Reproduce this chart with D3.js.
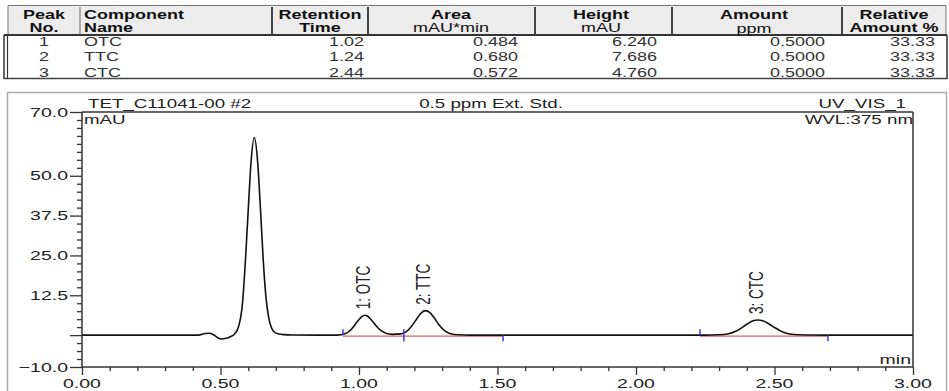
<!DOCTYPE html>
<html><head><meta charset="utf-8">
<script src="https://cdn.jsdelivr.net/npm/d3@7"></script>
<style>
body{margin:0;background:#fff}
svg{display:block}
text{font-family:"Liberation Sans",Arial,sans-serif;fill:#222}
</style>
</head><body>
<svg id="c" width="949" height="391"></svg>
<script>
// ---------- table data ----------
const peakNo = ["1", "2", "3"];
const componentName = ["OTC", "TTC", "CTC"];
const retentionTime = ["1.02", "1.24", "2.44"];
const areaValues = ["0.484", "0.680", "0.572"];
const heightValues = ["6.240", "7.686", "4.760"];
const amountValues = ["0.5000", "0.5000", "0.5000"];
const relativeAmount = ["33.33", "33.33", "33.33"];
const headerTop = ["Peak", "Component", "Retention", "Area", "Height", "Amount", "Relative"];
const headerBottom = ["No.", "Name", "Time", "mAU*min", "mAU", "ppm", "Amount %"];

// ---------- chromatogram data ----------
const traceTime = [0.00, 0.30, 0.42, 0.445, 0.46, 0.475, 0.49, 0.505, 0.52, 0.535, 0.55, 0.565, 0.58, 0.59, 0.60, 0.61, 0.622, 0.634, 0.644, 0.654, 0.664, 0.674, 0.684, 0.695, 0.71, 0.73, 0.76, 0.85,
  0.92, 0.95, 0.97, 0.99, 1.00, 1.01, 1.02, 1.03, 1.04, 1.05, 1.06, 1.08, 1.10, 1.12, 1.15,
  1.17, 1.19, 1.21, 1.225, 1.24, 1.255, 1.27, 1.29, 1.31, 1.33, 1.36, 1.40, 1.50, 2.00, 2.25,
  2.30, 2.33, 2.36, 2.38, 2.40, 2.42, 2.44, 2.46, 2.48, 2.50, 2.52, 2.54, 2.57, 2.61, 2.70, 3.00];
const traceMAU = [0, 0, 0, 0.5, 0.6, 0.1, -0.8, -1.2, -1.0, -0.5, 0.3, 2.6, 10.5, 23.5, 39, 54, 62, 54.5, 40, 24, 12, 5.5, 2.3, 0.9, 0.35, 0.15, 0.05, 0,
  0, 0.4, 1.6, 3.8, 4.9, 5.8, 6.24, 6.0, 5.2, 4.2, 3.1, 1.4, 0.5, 0.25, 0.4,
  1.0, 2.8, 5.3, 7.0, 7.686, 7.1, 5.6, 3.1, 1.3, 0.45, 0.1, 0, 0, 0, 0,
  0.1, 0.35, 1.2, 2.2, 3.4, 4.4, 4.76, 4.4, 3.5, 2.4, 1.4, 0.7, 0.2, 0.05, 0, 0];

const peakLabels = ["1: OTC", "2: TTC", "3: CTC"];
const peakTimes = [1.02, 1.24, 2.44];
const peakHeights = [6.240, 7.686, 4.760];
const delimiterTimes = [0.942, 1.162, 1.52, 2.231, 2.693];
const delimiterSide = ["up", "both", "down", "up", "down"];
const baselineStart = [0.942, 2.231];
const baselineEnd = [1.52, 2.693];
const yTickLabels = [70, 50, 37.5, 25, 12.5, -10];
const yMajorTicks = [-10, 0, 12.5, 25, 37.5, 50, 70];
const xTickLabels = [0, 0.5, 1, 1.5, 2, 2.5, 3];

// ---------- drawing ----------
const svg = d3.select("#c");
svg.append("rect").attr("width", 949).attr("height", 391).attr("fill", "#fff");
const SX = 1.5;

function txt(g, s, x, y, anchor, size, weight, color) {
  return g.append("text")
    .attr("transform", `translate(${x},${y}) scale(${SX},1)`)
    .attr("text-anchor", anchor)
    .style("font-size", size + "px")
    .style("font-weight", weight || "normal")
    .style("fill", color || "#222")
    .text(s);
}

// ----- table -----
const tg = svg.append("g");
tg.append("rect").attr("x", 8).attr("y", 5.5).attr("width", 938).attr("height", 29.5).attr("fill", "#ececec");
tg.append("line").attr("x1", 8).attr("x2", 946).attr("y1", 5.5).attr("y2", 5.5).attr("stroke", "#777").attr("stroke-width", 1);
tg.append("line").attr("x1", 8).attr("x2", 8).attr("y1", 5.5).attr("y2", 35).attr("stroke", "#777");
tg.append("line").attr("x1", 946).attr("x2", 946).attr("y1", 5.5).attr("y2", 35).attr("stroke", "#777");
const sepX = [80, 272, 368, 535, 672, 842];
sepX.forEach((sx, i) => {
  tg.append("line").attr("x1", sx).attr("x2", sx).attr("y1", 7).attr("y2", 35)
    .attr("stroke", i === 0 ? "#666" : "#333").attr("stroke-width", i === 0 ? 1 : 1.8);
});
// body box
tg.append("line").attr("x1", 4).attr("x2", 947).attr("y1", 35).attr("y2", 35).attr("stroke", "#333").attr("stroke-width", 1.8);
tg.append("line").attr("x1", 4).attr("x2", 947).attr("y1", 78.5).attr("y2", 78.5).attr("stroke", "#444").attr("stroke-width", 1.5);
tg.append("line").attr("x1", 4).attr("x2", 4).attr("y1", 35).attr("y2", 79).attr("stroke", "#333").attr("stroke-width", 1.5);
tg.append("line").attr("x1", 7.5).attr("x2", 7.5).attr("y1", 35).attr("y2", 79).attr("stroke", "#333").attr("stroke-width", 1.2);
tg.append("line").attr("x1", 947).attr("x2", 947).attr("y1", 35).attr("y2", 79).attr("stroke", "#333").attr("stroke-width", 1.5);

const hdrX = [44, 84, 320, 451, 601, 754, 894];
const hdrAnchor = ["middle", "start", "middle", "middle", "middle", "middle", "middle"];
const hdrBottomBold = [true, true, true, false, false, false, true];
headerTop.forEach((h, i) => txt(tg, h, hdrX[i], 19, hdrAnchor[i], 12, "bold", "#111"));
headerBottom.forEach((h, i) => txt(tg, h, hdrX[i], i === 5 ? 33 : 32, hdrAnchor[i], 12, hdrBottomBold[i] ? "bold" : "normal", "#111"));

const rowY = [46, 61, 76.5];
const dataCols = [peakNo, componentName, retentionTime, areaValues, heightValues, amountValues, relativeAmount];
const dataX = [44, 84, 364, 518, 657, 825, 935];
const dataAnchor = ["middle", "start", "end", "end", "end", "end", "end"];
dataCols.forEach((col, ci) => col.forEach((v, ri) => txt(tg, v, dataX[ci], rowY[ri], dataAnchor[ci], 12, "normal", "#333")));

// ----- chart panel -----
svg.append("rect").attr("x", 7.5).attr("y", 92.5).attr("width", 939).attr("height", 310)
  .attr("fill", "none").attr("stroke", "#aaa").attr("stroke-width", 1.5);

const x = d3.scaleLinear().domain([0, 3]).range([82, 913]);
const y = d3.scaleLinear().domain([-10, 70]).range([367, 112]);
const cg = svg.append("g");

// y axis ticks
const yMinor = d3.range(-10, 70.001, 2.5).filter(v => !yMajorTicks.includes(v));
cg.append("g").attr("transform", "translate(82,0)")
  .call(d3.axisLeft(y).tickValues(yMinor).tickSize(5).tickFormat(""))
  .call(g => g.select(".domain").remove());
cg.append("g").attr("transform", "translate(82,0)")
  .call(d3.axisLeft(y).tickValues(yMajorTicks).tickSize(12).tickFormat(""))
  .call(g => g.select(".domain").remove());
// x axis ticks
const xMinor = d3.range(0, 3.0001, 0.1).filter(v => Math.abs(v * 2 - Math.round(v * 2)) > 1e-6);
cg.append("g").attr("transform", "translate(0,367)")
  .call(d3.axisBottom(x).tickValues(xMinor).tickSize(4).tickFormat(""))
  .call(g => g.select(".domain").remove());
cg.append("g").attr("transform", "translate(0,367)")
  .call(d3.axisBottom(x).tickValues(xTickLabels).tickSize(8).tickFormat(""))
  .call(g => g.select(".domain").remove());
cg.selectAll(".tick line").attr("stroke", "#333").attr("stroke-width", 1.3);

// tick labels
yTickLabels.forEach(v => txt(cg, d3.format(".1f")(v), 68, y(v) + 4.7, "end", 13, "normal", "#222"));
xTickLabels.forEach(v => txt(cg, d3.format(".2f")(v), x(v), 388, "middle", 13, "normal", "#222"));

// baselines (red)
baselineStart.forEach((s, i) => {
  cg.append("line").attr("x1", x(s)).attr("x2", x(baselineEnd[i]))
    .attr("y1", y(-0.3)).attr("y2", y(-0.3)).attr("stroke", "#e05a5a").attr("stroke-width", 1.3);
});

// trace
const pts = traceTime.map((t, i) => [t, traceMAU[i]]);
const line = d3.line().x(d => x(d[0])).y(d => y(d[1])).curve(d3.curveMonotoneX);
cg.append("path").attr("d", line(pts)).attr("fill", "none").attr("stroke", "#111").attr("stroke-width", 1.6);

// delimiters (blue)
delimiterTimes.forEach((t, i) => {
  const side = delimiterSide[i];
  const y0 = y(0);
  const y1 = side === "down" ? y0 : y0 - 6;
  const y2 = side === "up" ? y0 : y0 + 6;
  cg.append("line").attr("x1", x(t)).attr("x2", x(t)).attr("y1", y1).attr("y2", y2)
    .attr("stroke", "#3a3ad0").attr("stroke-width", 1.5);
});

// frame
cg.append("line").attr("x1", 82).attr("x2", 82).attr("y1", 112).attr("y2", 367).attr("stroke", "#333").attr("stroke-width", 1.5);
cg.append("line").attr("x1", 82).attr("x2", 913).attr("y1", 112).attr("y2", 112).attr("stroke", "#333").attr("stroke-width", 1.5);
cg.append("line").attr("x1", 913).attr("x2", 913).attr("y1", 112).attr("y2", 367).attr("stroke", "#333").attr("stroke-width", 1.5);
cg.append("line").attr("x1", 82).attr("x2", 913).attr("y1", 367).attr("y2", 367).attr("stroke", "#333").attr("stroke-width", 1.5);

// peak labels
peakLabels.forEach((l, i) => {
  cg.append("text")
    .attr("transform", `translate(${x(peakTimes[i]) + 5},${y(peakHeights[i]) - 6}) scale(${SX},1) rotate(-90)`)
    .attr("text-anchor", "start").style("font-size", "13.5px").style("fill", "#222").text(l);
});

// titles
txt(cg, "TET_C11041-00 #2", 88, 107.5, "start", 12.5);
txt(cg, "0.5 ppm Ext. Std.", 491, 107.5, "middle", 12.5);
txt(cg, "UV_VIS_1", 906, 107.5, "end", 12.5);
txt(cg, "mAU", 84, 123.5, "start", 12.5);
txt(cg, "WVL:375 nm", 913, 123.5, "end", 12.5);
txt(cg, "min", 911, 364, "end", 13);
</script>
</body></html>
